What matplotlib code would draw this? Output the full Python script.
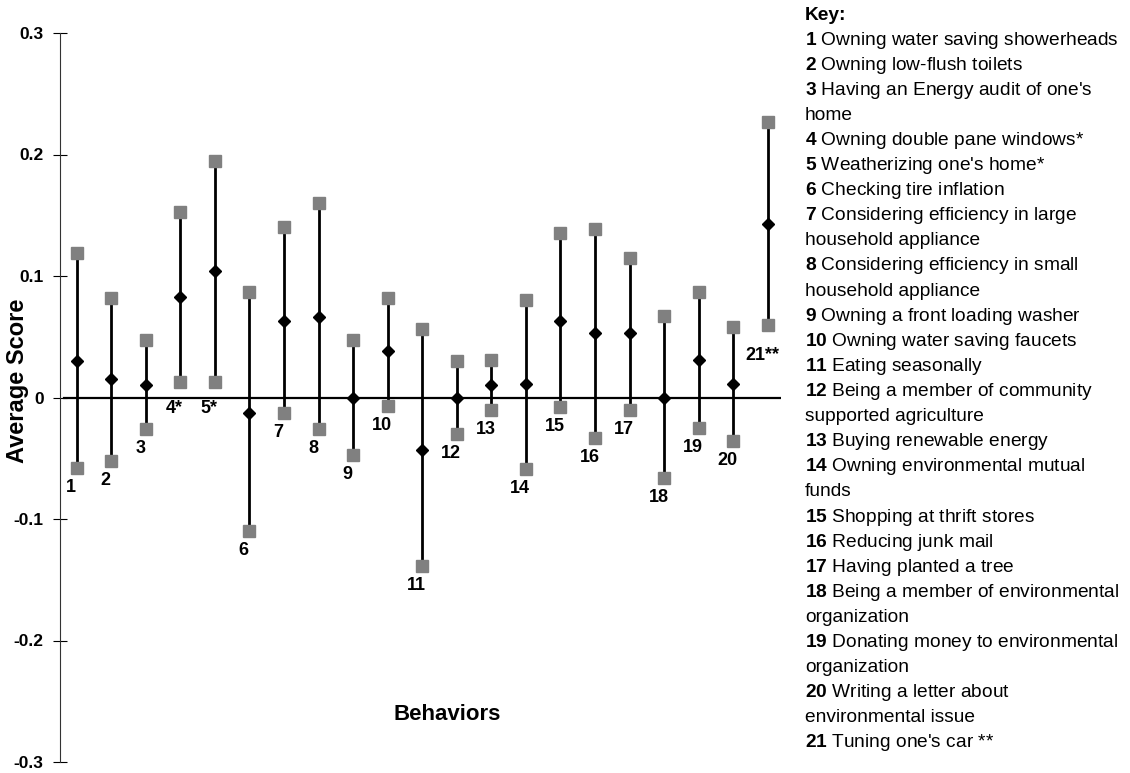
import matplotlib
matplotlib.use('Agg')
import matplotlib.pyplot as plt

plt.rcParams['font.family'] = ['Liberation Sans', 'DejaVu Sans']
plt.rcParams['mathtext.fontset'] = 'custom'
plt.rcParams['mathtext.rm'] = 'Liberation Sans'
plt.rcParams['mathtext.bf'] = 'Liberation Sans:bold'

# ── Data ─────────────────────────────────────────────────────────────────
behaviors = list(range(1, 22))
point_labels = ['1', '2', '3', '4*', '5*', '6', '7', '8', '9', '10', '11',
                '12', '13', '14', '15', '16', '17', '18', '19', '20', '21**']
mean_score = [0.030, 0.015, 0.010, 0.083, 0.104, -0.013, 0.063, 0.066, 0.000,
              0.038, -0.043, 0.000, 0.010, 0.011, 0.063, 0.053, 0.053, 0.000,
              0.031, 0.011, 0.143]
upper = [0.119, 0.082, 0.047, 0.153, 0.195, 0.087, 0.140, 0.160, 0.047, 0.082,
         0.056, 0.030, 0.031, 0.080, 0.135, 0.139, 0.115, 0.067, 0.087, 0.058,
         0.227]
lower = [-0.058, -0.052, -0.026, 0.013, 0.013, -0.110, -0.013, -0.026, -0.047,
         -0.007, -0.139, -0.030, -0.010, -0.059, -0.008, -0.033, -0.010,
         -0.066, -0.025, -0.036, 0.060]

y_ticks = [-0.3, -0.2, -0.1, 0, 0.1, 0.2, 0.3]
y_tick_labels = ['-0.3', '-0.2', '-0.1', '0', '0.1', '0.2', '0.3']

# (bold number, description); empty number = wrapped continuation line
key_items = [
    ('1', 'Owning water saving showerheads'),
    ('2', 'Owning low-flush toilets'),
    ('3', "Having an Energy audit of one's"),
    ('', 'home'),
    ('4', 'Owning double pane windows*'),
    ('5', "Weatherizing one's home*"),
    ('6', 'Checking tire inflation'),
    ('7', 'Considering efficiency in large'),
    ('', 'household appliance'),
    ('8', 'Considering efficiency in small'),
    ('', 'household appliance'),
    ('9', 'Owning a front loading washer'),
    ('10', 'Owning water saving faucets'),
    ('11', 'Eating seasonally'),
    ('12', 'Being a member of community'),
    ('', 'supported agriculture'),
    ('13', 'Buying renewable energy'),
    ('14', 'Owning environmental mutual'),
    ('', 'funds'),
    ('15', 'Shopping at thrift stores'),
    ('16', 'Reducing junk mail'),
    ('17', 'Having planted a tree'),
    ('18', 'Being a member of environmental'),
    ('', 'organization'),
    ('19', 'Donating money to environmental'),
    ('', 'organization'),
    ('20', 'Writing a letter about'),
    ('', 'environmental issue'),
    ('21', "Tuning one's car **"),
]

# ── Figure ───────────────────────────────────────────────────────────────
W, H = 1130, 773
fig = plt.figure(figsize=(W / 100, H / 100), dpi=100)
ax = fig.add_axes([60 / W, 11 / H, 721 / W, 729 / H])

ax.set_ylim(-0.3, 0.3)
ax.set_xlim(0.52, 21.38)

ax.axhline(0, xmin=4 / 721, xmax=1, color='black', lw=1.6, zorder=2)
ax.vlines(behaviors, lower, upper, color='black', lw=2, zorder=3)
ax.plot(behaviors, upper, 's', color='#808080', ms=9, mec='#808080', zorder=4)
ax.plot(behaviors, lower, 's', color='#808080', ms=9, mec='#808080', zorder=4)
ax.plot(behaviors, mean_score, 'D', color='black', ms=6.5, zorder=5)

# number labels under the low end of each range
for x, lo, lab in zip(behaviors, lower, point_labels):
    drop = 14
    if lab.endswith('**'):
        drop = 22
    elif lab.endswith('*'):
        drop = 19
    ax.annotate(lab, (x, lo), textcoords='offset points', xytext=(-4, -drop),
                ha='center', va='center', fontsize=13, fontweight='bold')

ax.set_yticks(y_ticks)
ax.set_yticklabels(y_tick_labels, fontsize=12.5, fontweight='bold')
ax.tick_params(axis='y', direction='inout', length=9.5, width=0.8, pad=7)
ax.set_xticks([])

for side in ['top', 'right', 'bottom']:
    ax.spines[side].set_visible(False)
ax.spines['left'].set_linewidth(0.8)
ax.spines['left'].set_color('#333333')

fig.text(18 / W, 1 - 381 / H, 'Average Score', rotation=90, ha='center',
         va='center', fontsize=17, fontweight='bold')
fig.text(447 / W, 1 - 714 / H, 'Behaviors', ha='center', va='center',
         fontsize=16, fontweight='bold')

# ── Key ──────────────────────────────────────────────────────────────────
key_x = 805 / W
line_h = 25.1
key_fs = 13.8
fig.text(key_x, 1 - 15 / H, 'Key:', ha='left', va='center', fontsize=key_fs,
         fontweight='bold')
for i, (num, desc) in enumerate(key_items):
    y = 1 - (15 + line_h * (i + 1)) / H
    line = desc
    if num:
        line = r'$\mathbf{' + num + '}$ ' + desc
    fig.text(key_x, y, line, ha='left', va='center', fontsize=key_fs)

fig.savefig('out.png', dpi=100)
